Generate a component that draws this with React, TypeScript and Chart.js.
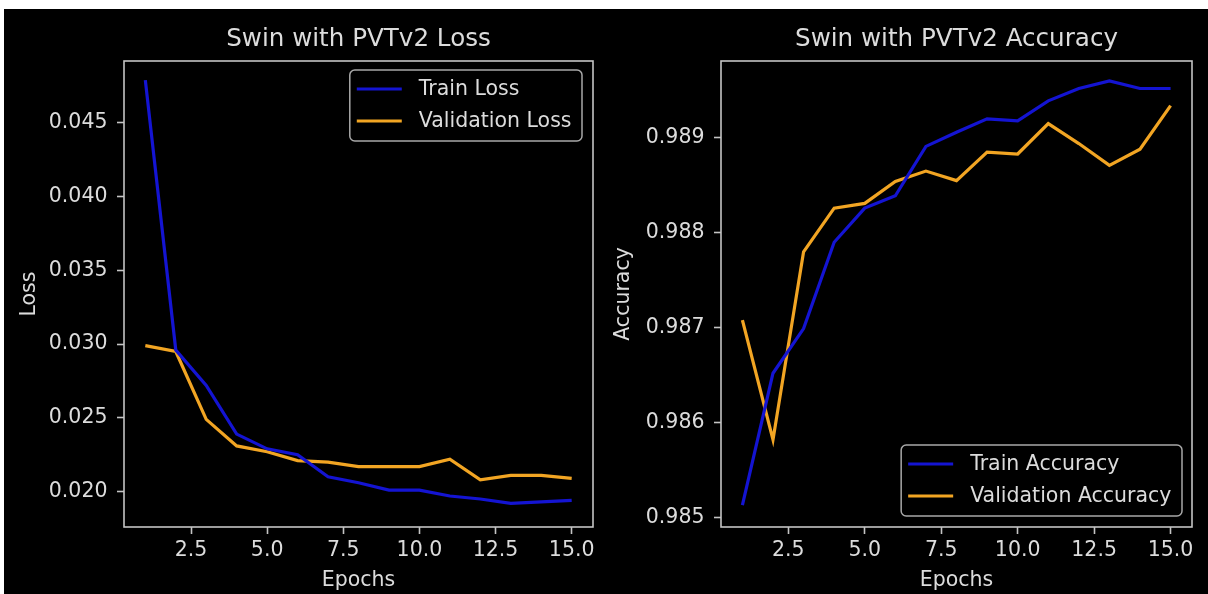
import React, { useEffect, useRef } from "react";
import { Chart, registerables } from "chart.js";

Chart.register(...registerables);

// ---------- data ----------
const epochs = [1, 2, 3, 4, 5, 6, 7, 8, 9, 10, 11, 12, 13, 14, 15];
const trainLoss = [0.0479, 0.0296, 0.0272, 0.0239, 0.0229, 0.0225, 0.021, 0.0206, 0.0201, 0.0201, 0.0197, 0.0195, 0.0192, 0.0193, 0.0194];
const valLoss = [0.0299, 0.0295, 0.0249, 0.0231, 0.0227, 0.0221, 0.022, 0.0217, 0.0217, 0.0217, 0.0222, 0.0208, 0.0211, 0.0211, 0.0209];
const trainAcc = [0.98513, 0.98652, 0.98699, 0.9879, 0.98826, 0.98839, 0.98891, 0.98906, 0.9892, 0.98918, 0.98939, 0.98952, 0.9896, 0.98952, 0.98952];
const valAcc = [0.98708, 0.98582, 0.9878, 0.98826, 0.98831, 0.98854, 0.98865, 0.98855, 0.98885, 0.98883, 0.98915, 0.98894, 0.98871, 0.98888, 0.98934];

const lossTitle = "Swin with PVTv2 Loss";
const accTitle = "Swin with PVTv2 Accuracy";
const lossLabels = ["Train Loss", "Validation Loss"];
const accLabels = ["Train Accuracy", "Validation Accuracy"];

const xRange = [0.3, 15.7];
const lossRange = [0.0176, 0.0492];
const accRange = [0.9849, 0.98981];

// ---------- styles ----------
const FONT = "'DejaVu Sans', 'Liberation Sans', sans-serif";
const TEXT = "#dcdcdc";
const SPINE = "#c4c4c4";
const BLUE = "#1414d2";
const ORANGE = "#f2a523";

const decorPlugin = {
  id: "decor",
  afterDraw(chart: any, _args: any, opts: any) {
    const { ctx, chartArea: a } = chart;
    ctx.save();
    // frame (spines)
    ctx.strokeStyle = SPINE;
    ctx.lineWidth = 1.6;
    ctx.strokeRect(a.left, a.top, a.right - a.left, a.bottom - a.top);
    // title
    ctx.fillStyle = TEXT;
    ctx.font = `24.6px ${FONT}`;
    ctx.textAlign = "center";
    ctx.textBaseline = "middle";
    ctx.fillText(opts.title, (a.left + a.right) / 2, a.top - 21.5);
    // legend
    ctx.font = `20.5px ${FONT}`;
    const ds = chart.data.datasets;
    let maxW = 0;
    ds.forEach((d: any) => {
      maxW = Math.max(maxW, ctx.measureText(d.label).width);
    });
    const w = 7 + 45 + 17 + maxW + 10.5;
    const h = 71;
    let left: number, top: number;
    if (opts.legendPos === "upper right") {
      left = a.right - 11 - w;
      top = a.top + 9;
    } else {
      left = a.right - 10 - w;
      top = a.bottom - 11 - h;
    }
    const r = 5;
    ctx.beginPath();
    ctx.moveTo(left + r, top);
    ctx.lineTo(left + w - r, top);
    ctx.arcTo(left + w, top, left + w, top + r, r);
    ctx.lineTo(left + w, top + h - r);
    ctx.arcTo(left + w, top + h, left + w - r, top + h, r);
    ctx.lineTo(left + r, top + h);
    ctx.arcTo(left, top + h, left, top + h - r, r);
    ctx.lineTo(left, top + r);
    ctx.arcTo(left, top, left + r, top, r);
    ctx.closePath();
    ctx.fillStyle = "rgba(0,0,0,0.8)";
    ctx.fill();
    ctx.strokeStyle = "#a8a8a8";
    ctx.lineWidth = 1.5;
    ctx.stroke();
    ds.forEach((d: any, i: number) => {
      const cy = top + 19 + i * 32;
      ctx.strokeStyle = d.borderColor;
      ctx.lineWidth = 3;
      ctx.beginPath();
      ctx.moveTo(left + 7, cy);
      ctx.lineTo(left + 52, cy);
      ctx.stroke();
      ctx.fillStyle = TEXT;
      ctx.textAlign = "left";
      ctx.textBaseline = "middle";
      ctx.fillText(d.label, left + 69, cy + 1);
    });
    ctx.restore();
  },
};

function makeConfig(
  title: string,
  labels: string[],
  s1: number[],
  s2: number[],
  yRange: number[],
  yStep: number,
  yLabel: string,
  yAxisWidth: number,
  yTitlePad: number,
  rightPad: number,
  legendPos: string
): any {
  return {
    type: "line",
    data: {
      datasets: [
        {
          label: labels[0],
          data: epochs.map((e, i) => ({ x: e, y: s1[i] })),
          borderColor: BLUE,
          borderWidth: 3.2,
          pointRadius: 0,
          tension: 0,
          fill: false,
        },
        {
          label: labels[1],
          data: epochs.map((e, i) => ({ x: e, y: s2[i] })),
          borderColor: ORANGE,
          borderWidth: 3.2,
          pointRadius: 0,
          tension: 0,
          fill: false,
        },
      ],
    },
    options: {
      responsive: false,
      animation: false,
      layout: { padding: { top: 52, right: rightPad, left: 0, bottom: 0 } },
      plugins: {
        legend: { display: false },
        title: { display: false },
        tooltip: { enabled: false },
        decor: { title, legendPos },
      },
      scales: {
        x: {
          type: "linear",
          min: xRange[0],
          max: xRange[1],
          afterFit: (s: any) => {
            s.height = 67;
          },
          border: { display: false },
          grid: {
            drawOnChartArea: false,
            drawTicks: true,
            tickLength: 7,
            tickColor: SPINE,
            tickWidth: 1.6,
            color: SPINE,
          },
          ticks: {
            stepSize: 2.5,
            includeBounds: false,
            color: TEXT,
            padding: 4,
            maxRotation: 0,
            font: { family: FONT, size: 20.5 },
            callback: (v: number) => v.toFixed(1),
          },
          title: {
            display: true,
            text: "Epochs",
            color: TEXT,
            font: { family: FONT, size: 20.5 },
            padding: { top: 0, bottom: 1 },
          },
        },
        y: {
          type: "linear",
          min: yRange[0],
          max: yRange[1],
          afterFit: (s: any) => {
            s.width = yAxisWidth;
          },
          border: { display: false },
          grid: {
            drawOnChartArea: false,
            drawTicks: true,
            tickLength: 7,
            tickColor: SPINE,
            tickWidth: 1.6,
            color: SPINE,
          },
          ticks: {
            stepSize: yStep,
            includeBounds: false,
            color: TEXT,
            padding: 9.5,
            font: { family: FONT, size: 20.5 },
            callback: (v: number) => v.toFixed(3),
          },
          title: {
            display: true,
            text: yLabel,
            color: TEXT,
            font: { family: FONT, size: 20.5 },
            padding: { top: yTitlePad, bottom: 0 },
          },
        },
      },
    },
    plugins: [decorPlugin],
  };
}

function ChartCanvas({ config, width, height, left }: { config: any; width: number; height: number; left: number }) {
  const ref = useRef<HTMLCanvasElement | null>(null);
  useEffect(() => {
    if (!ref.current) return;
    const chart = new Chart(ref.current, config);
    return () => chart.destroy();
  }, [config]);
  return (
    <canvas
      ref={ref}
      width={width}
      height={height}
      style={{ position: "absolute", left, top: 0, width, height, display: "block" }}
    />
  );
}

const lossConfig = makeConfig(lossTitle, lossLabels, trainLoss, valLoss, lossRange, 0.005, "Loss", 120, 13, 11, "upper right");
const accConfig = makeConfig(accTitle, accLabels, trainAcc, valAcc, accRange, 0.001, "Accuracy", 117, 7.5, 16, "lower right");

export default function App() {
  return (
    <div
      style={{
        position: "absolute",
        left: 4,
        top: 9,
        width: 1204,
        height: 585,
        background: "#000",
        overflow: "hidden",
      }}
    >
      <ChartCanvas config={lossConfig} width={600} height={585} left={0} />
      <ChartCanvas config={accConfig} width={604} height={585} left={600} />
    </div>
  );
}
